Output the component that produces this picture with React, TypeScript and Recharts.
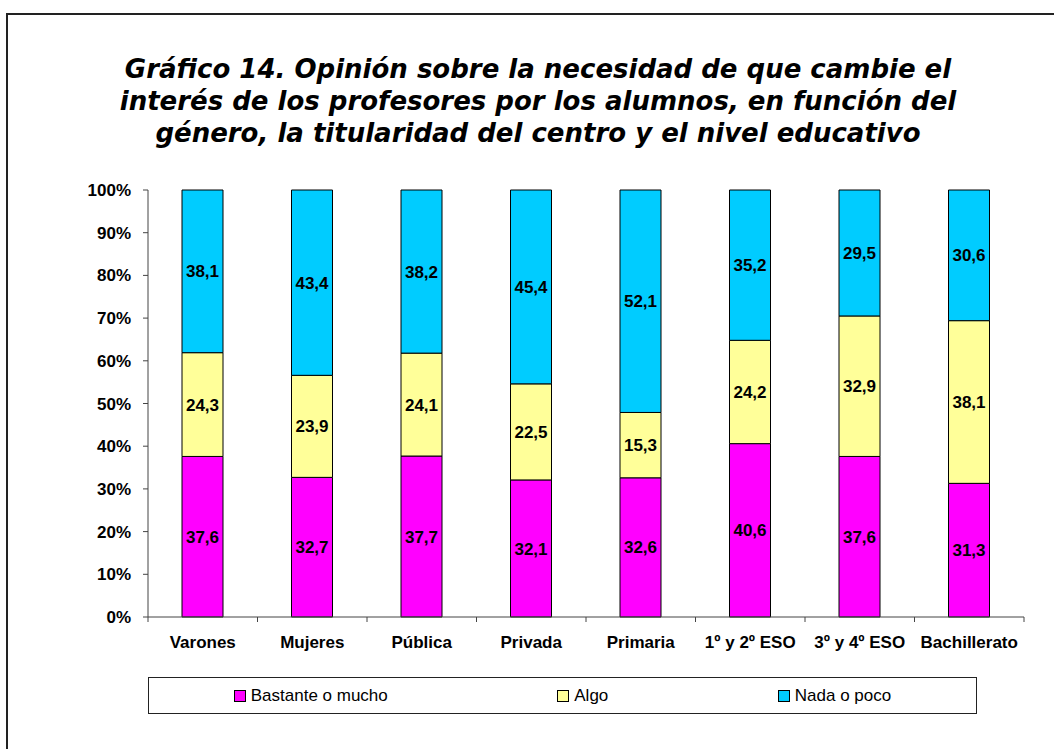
import React from "react";
import { BarChart, Bar, XAxis, YAxis, Legend, LabelList } from "recharts";

const categories = [
  "Varones",
  "Mujeres",
  "Pública",
  "Privada",
  "Primaria",
  "1º y 2º ESO",
  "3º y 4º ESO",
  "Bachillerato",
];
const bastante = [37.6, 32.7, 37.7, 32.1, 32.6, 40.6, 37.6, 31.3];
const algo = [24.3, 23.9, 24.1, 22.5, 15.3, 24.2, 32.9, 38.1];
const nada = [38.1, 43.4, 38.2, 45.4, 52.1, 35.2, 29.5, 30.6];
const yTicks = [0, 10, 20, 30, 40, 50, 60, 70, 80, 90, 100];

const series = [
  { key: "bastante", name: "Bastante o mucho", color: "#FF00FF" },
  { key: "algo", name: "Algo", color: "#FFFF99" },
  { key: "nada", name: "Nada o poco", color: "#00CCFF" },
];

const data = categories.map((cat, i) => ({
  cat,
  bastante: bastante[i],
  algo: algo[i],
  nada: nada[i],
}));

const FONT = "'Liberation Sans', Arial, sans-serif";
const HALF_BAND = 54.75;

// category labels centred, tick marks on the category borders (Excel style)
const XTick = (props: any) => {
  const { x, y, payload, index } = props;
  const last = index === categories.length - 1;
  return (
    <g>
      <line x1={x - HALF_BAND} y1={y} x2={x - HALF_BAND} y2={y + 5} stroke="#444" />
      {last && <line x1={x + HALF_BAND} y1={y} x2={x + HALF_BAND} y2={y + 5} stroke="#444" />}
      <text
        x={x}
        y={y + 19}
        dy="0.71em"
        textAnchor="middle"
        fill="#000"
        style={{ fontFamily: FONT, fontWeight: "bold", fontSize: 17 }}
      >
        {payload.value}
      </text>
    </g>
  );
};

const LegendBox = () => (
  <div
    style={{
      display: "flex",
      justifyContent: "space-around",
      alignItems: "center",
      height: "100%",
      fontFamily: FONT,
      fontSize: 17,
      color: "#000",
    }}
  >
    {series.map((s) => (
      <div key={s.key} style={{ display: "flex", alignItems: "center" }}>
        <span
          style={{
            display: "inline-block",
            width: 10,
            height: 10,
            background: s.color,
            border: "1px solid #000",
            marginRight: 5,
          }}
        />
        <span>{s.name}</span>
      </div>
    ))}
  </div>
);

export default function App() {
  return (
    <div
      style={{
        position: "absolute",
        left: 0,
        top: 0,
        width: 1054,
        height: 749,
        overflow: "hidden",
        background: "#fff",
      }}
    >
      <div
        style={{
          position: "absolute",
          left: 6,
          top: 13,
          width: 1100,
          height: 800,
          border: "2px solid #222",
        }}
      />
      <div
        style={{
          position: "absolute",
          left: 0,
          top: 53,
          width: 1076,
          textAlign: "center",
          fontFamily: "'DejaVu Sans', Verdana, sans-serif",
          fontWeight: "bold",
          fontStyle: "italic",
          fontSize: 26,
          lineHeight: "32px",
          color: "#000",
        }}
      >
        <div>Gráfico 14. Opinión sobre la necesidad de que cambie el</div>
        <div>interés de los profesores por los alumnos, en función del</div>
        <div>género, la titularidad del centro y el nivel educativo</div>
      </div>
      <div style={{ position: "absolute", left: 0, top: 0 }}>
        <BarChart
          width={1054}
          height={749}
          data={data}
          margin={{ top: 190, right: 30, left: 0, bottom: 0 }}
        >
          <XAxis
            dataKey="cat"
            height={132}
            tickLine={false}
            tickSize={0}
            tickMargin={0}
            stroke="#444"
            interval={0}
            tick={<XTick />}
          />
          <YAxis
            width={148}
            domain={[0, 100]}
            ticks={yTicks}
            tickFormatter={(v: number) => `${v}%`}
            stroke="#444"
            tickSize={5}
            tickMargin={12}
            tick={{ fill: "#000", fontFamily: FONT, fontWeight: "bold", fontSize: 17 }}
          />
          <Legend
            layout="horizontal"
            verticalAlign="middle"
            align="center"
            content={<LegendBox />}
            wrapperStyle={{
              left: 148,
              top: 677,
              width: 829,
              height: 37,
              border: "1px solid #222",
              boxSizing: "border-box",
              background: "#fff",
            }}
          />
          {series.map((s) => (
            <Bar
              key={s.key}
              dataKey={s.key}
              name={s.name}
              stackId="a"
              fill={s.color}
              stroke="#000"
              strokeWidth={1}
              barSize={41}
              isAnimationActive={false}
            >
              <LabelList
                dataKey={s.key}
                position="center"
                formatter={(v: any) => Number(v).toFixed(1).replace(".", ",")}
                style={{ fill: "#000", fontFamily: FONT, fontWeight: "bold", fontSize: 17 }}
              />
            </Bar>
          ))}
        </BarChart>
      </div>
    </div>
  );
}
